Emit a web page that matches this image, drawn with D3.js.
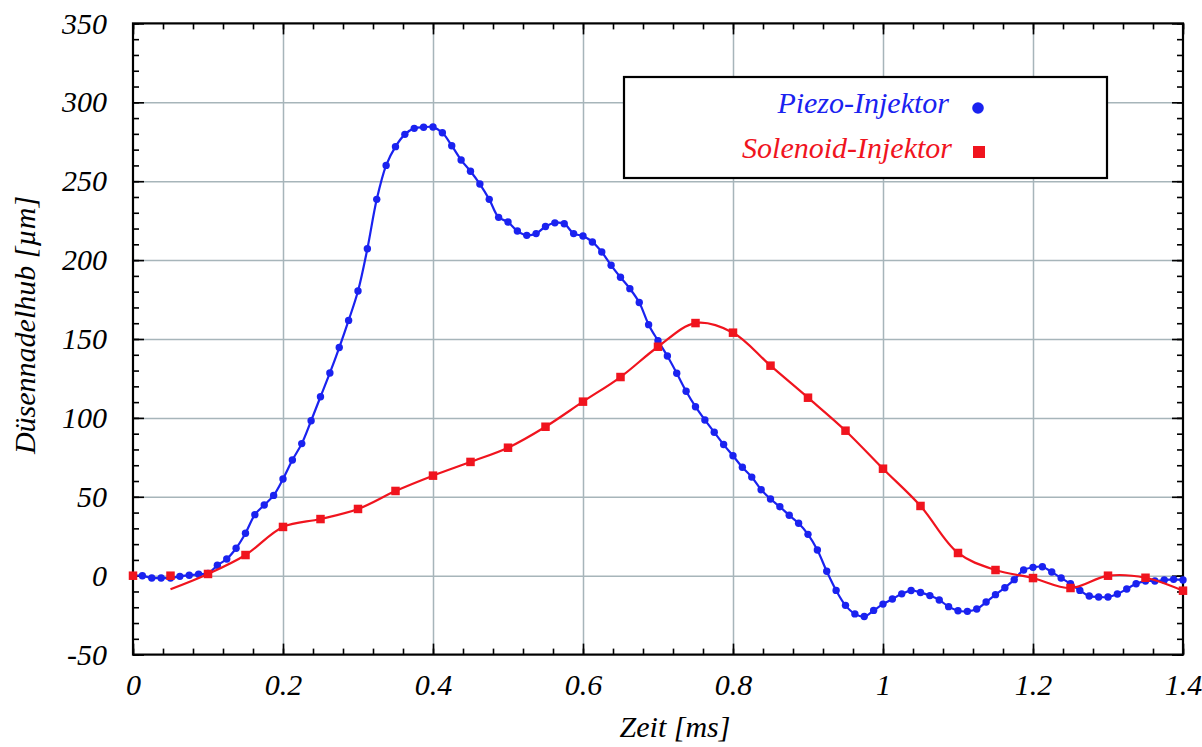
<!DOCTYPE html>
<html>
<head>
<meta charset="utf-8">
<script src="https://cdn.jsdelivr.net/npm/d3@7"></script>
<style>
html,body{margin:0;padding:0;background:#fff;}
svg{display:block;}
text{font-family:"Liberation Serif","Times New Roman",serif;font-style:italic;}
</style>
</head>
<body>
<svg id="chart" width="1202" height="747"></svg>
<script>
// ---- data ----
const piezoTimes = [0,0.0125,0.025,0.0375,0.05,0.0625,0.075,0.0875,0.1,0.1125,0.125,0.1375,0.15,0.1625,0.175,0.1875,
0.2,0.2125,0.225,0.2375,0.25,0.2625,0.275,0.2875,0.3,0.3125,0.325,0.3375,0.35,0.3625,0.375,0.3875,
0.4,0.4125,0.425,0.4375,0.45,0.4625,0.475,0.4875,0.5,0.5125,0.525,0.5375,0.55,0.5625,0.575,0.5875,
0.6,0.6125,0.625,0.6375,0.65,0.6625,0.675,0.6875,0.7,0.7125,0.725,0.7375,0.75,0.7625,0.775,0.7875,
0.8,0.8125,0.825,0.8375,0.85,0.8625,0.875,0.8875,0.9,0.9125,0.925,0.9375,0.95,0.9625,0.975,0.9875,
1.0,1.0125,1.025,1.0375,1.05,1.0625,1.075,1.0875,1.1,1.1125,1.125,1.1375,1.15,1.1625,1.175,1.1875,
1.2,1.2125,1.225,1.2375,1.25,1.2625,1.275,1.2875,1.3,1.3125,1.325,1.3375,1.35,1.3625,1.375,1.3875,1.4];
const piezoValues = [0,0,-1.5,-1.5,-1.5,-0.4,0.3,0.9,1.5,6.6,10.6,17.4,26.9,38.7,44.8,50.9,
61.3,73.3,83.7,98.2,113.4,128.5,144.6,161.8,180.4,207.2,238.5,260,271.9,279.7,283.5,284.2,
284.3,280.7,272.5,263.4,256.3,248.2,238.5,227.1,224.1,218.4,215.7,216.8,221.3,223.6,223,216.8,
215.3,211.5,205.1,196.7,189.1,181.9,173.1,159.1,148.9,139.2,128.3,116.9,107.1,98.7,90.9,83.1,
76,68.7,62.5,54.5,48.6,43.7,38.3,33.2,26.2,16.3,2.8,-9.3,-18.8,-24.2,-25.9,-22,
-18,-14.8,-11.5,-9.4,-10.6,-12.6,-15.4,-19.6,-22.2,-22.6,-21.1,-16.7,-12,-7.6,-2.5,3.6,
5.3,5.7,2.3,-1.5,-5.1,-9.3,-12.9,-13.5,-13.5,-11.6,-8.4,-5.1,-3.4,-3.4,-2.7,-2.3,-2.7];

const solenoidTimes = [0,0.05,0.1,0.15,0.2,0.25,0.3,0.35,0.4,0.45,0.5,0.55,0.6,0.65,0.7,0.75,0.8,0.85,0.9,0.95,1.0,1.05,1.1,1.15,1.2,1.25,1.3,1.35,1.4];
const solenoidValues = [0,0,1.1,13.1,30.9,35.9,42.3,53.7,63.4,72.1,81.1,94.4,110.3,125.9,145.1,160.1,154,133.1,112.8,91.9,67.8,44.2,14.4,3.6,-1.5,-7.8,0,-1.3,-9.5];

// smoothed fit curve drawn through the solenoid samples
const solenoidCurveTimes = [0.05,0.1,0.15,0.2,0.25,0.3,0.35,0.4,0.45,0.5,0.55,0.6,0.65,0.7,0.75,0.8,0.85,0.9,0.95,1.0,1.05,1.1,1.15,1.2,1.25,1.3,1.35,1.4];
const solenoidCurveValues = [-8.6,1.1,13.1,30.9,35.9,42.3,53.7,63.4,72.1,81.1,94.4,110.3,125.9,145.1,160.1,154,133.1,112.8,91.9,67.8,44.2,14.4,3.6,-1.5,-7.8,0,-1.3,-9.5];

const xTicks = [0,0.2,0.4,0.6,0.8,1,1.2,1.4];
const xTickLabels = ["0","0.2","0.4","0.6","0.8","1","1.2","1.4"];
const yTicks = [-50,0,50,100,150,200,250,300,350];
const yTickLabels = ["-50","0","50","100","150","200","250","300","350"];
const seriesNames = ["Piezo-Injektor","Solenoid-Injektor"];
const xTitle = "Zeit [ms]";
const yTitle = "Düsennadelhub [µm]";

// ---- layout ----
const L = 133, R = 1183, T = 23.4, B = 654.6;
const blue = "#1a22f0", red = "#f0141e", gridColor = "#a7b5ba";
const FS = 30;

const svg = d3.select("#chart");
svg.append("rect").attr("width",1202).attr("height",747).attr("fill","#fff");

const x = d3.scaleLinear().domain([0,1.4]).range([L,R]);
const y = d3.scaleLinear().domain([-50,350]).range([B,T]);

const xMinor = d3.range(0,1.4001,0.04).map(v=>+v.toFixed(2));
const yMinor = d3.range(-50,350.001,10);

// grid
svg.append("g").attr("transform",`translate(0,${B})`)
  .call(d3.axisBottom(x).tickValues(xTicks.slice(1,-1)).tickSize(-(B-T)).tickFormat(""))
  .call(g=>{g.select(".domain").remove();g.selectAll("line").attr("stroke",gridColor).attr("stroke-width",1.5);});
svg.append("g").attr("transform",`translate(${L},0)`)
  .call(d3.axisLeft(y).tickValues(yTicks.slice(1,-1)).tickSize(-(R-L)).tickFormat(""))
  .call(g=>{g.select(".domain").remove();g.selectAll("line").attr("stroke",gridColor).attr("stroke-width",1.5);});

// ticks (inward) on all four sides
function styleTicks(g){g.select(".domain").remove();g.selectAll("line").attr("stroke","#000").attr("stroke-width",1.6);}
svg.append("g").attr("transform",`translate(${L},0)`).call(d3.axisLeft(y).tickValues(yMinor).tickSize(-6).tickFormat("")).call(styleTicks);
svg.append("g").attr("transform",`translate(${R},0)`).call(d3.axisRight(y).tickValues(yMinor).tickSize(-6).tickFormat("")).call(styleTicks);
svg.append("g").attr("transform",`translate(0,${B})`).call(d3.axisBottom(x).tickValues(xMinor).tickSize(-6).tickFormat("")).call(styleTicks);
svg.append("g").attr("transform",`translate(0,${T})`).call(d3.axisTop(x).tickValues(xMinor).tickSize(-6).tickFormat("")).call(styleTicks);

const yAxis = svg.append("g").attr("transform",`translate(${L},0)`)
  .call(d3.axisLeft(y).tickValues(yTicks).tickSize(-11).tickPadding(26).tickFormat((d,i)=>yTickLabels[i]))
  .call(styleTicks);
svg.append("g").attr("transform",`translate(${R},0)`)
  .call(d3.axisRight(y).tickValues(yTicks).tickSize(-11).tickFormat("")).call(styleTicks);
const xAxis = svg.append("g").attr("transform",`translate(0,${B})`)
  .call(d3.axisBottom(x).tickValues(xTicks).tickSize(-11).tickPadding(19).tickFormat((d,i)=>xTickLabels[i]))
  .call(styleTicks);
svg.append("g").attr("transform",`translate(0,${T})`)
  .call(d3.axisTop(x).tickValues(xTicks).tickSize(-11).tickFormat("")).call(styleTicks);
svg.selectAll(".tick text").attr("font-family","'Liberation Serif',serif").attr("font-style","italic")
  .attr("font-size",FS).attr("fill","#000");

// frame
svg.append("rect").attr("x",L).attr("y",T).attr("width",R-L).attr("height",B-T)
  .attr("fill","none").attr("stroke","#000").attr("stroke-width",2.2);

// axis titles
svg.append("text").attr("x",675).attr("y",737).attr("text-anchor","middle").attr("font-size",FS).text(xTitle);
svg.append("text").attr("transform","translate(35,325) rotate(-90)").attr("text-anchor","middle").attr("font-size",FS).text(yTitle);

// series
const piezo = piezoTimes.map((t,i)=>({t,v:piezoValues[i]}));
const sol = solenoidTimes.map((t,i)=>({t,v:solenoidValues[i]}));
const solCurve = solenoidCurveTimes.map((t,i)=>({t,v:solenoidCurveValues[i]}));
const line = d3.line().x(d=>x(d.t)).y(d=>y(d.v)).curve(d3.curveCatmullRom.alpha(0.5));

svg.append("path").datum(piezo).attr("d",line).attr("fill","none").attr("stroke",blue).attr("stroke-width",2.2);
svg.append("g").selectAll("circle").data(piezo).join("circle")
  .attr("cx",d=>x(d.t)).attr("cy",d=>y(d.v)).attr("r",3.7).attr("fill",blue);

svg.append("path").datum(solCurve).attr("d",line).attr("fill","none").attr("stroke",red).attr("stroke-width",2.2);
const sq = 8.5;
svg.append("g").selectAll("rect").data(sol).join("rect")
  .attr("x",d=>x(d.t)-sq/2).attr("y",d=>y(d.v)-sq/2).attr("width",sq).attr("height",sq).attr("fill",red);

// legend
const lg = svg.append("g");
lg.append("rect").attr("x",624).attr("y",77).attr("width",483).attr("height",101)
  .attr("fill","#fff").attr("stroke","#000").attr("stroke-width",2.2);
lg.append("text").attr("x",949).attr("y",113).attr("text-anchor","end").attr("font-size",FS).attr("fill",blue).text(seriesNames[0]);
lg.append("circle").attr("cx",978).attr("cy",108).attr("r",5.8).attr("fill",blue);
lg.append("text").attr("x",952).attr("y",158).attr("text-anchor","end").attr("font-size",FS).attr("fill",red).text(seriesNames[1]);
lg.append("rect").attr("x",973).attr("y",146).attr("width",12).attr("height",12).attr("fill",red);
</script>
</body>
</html>
